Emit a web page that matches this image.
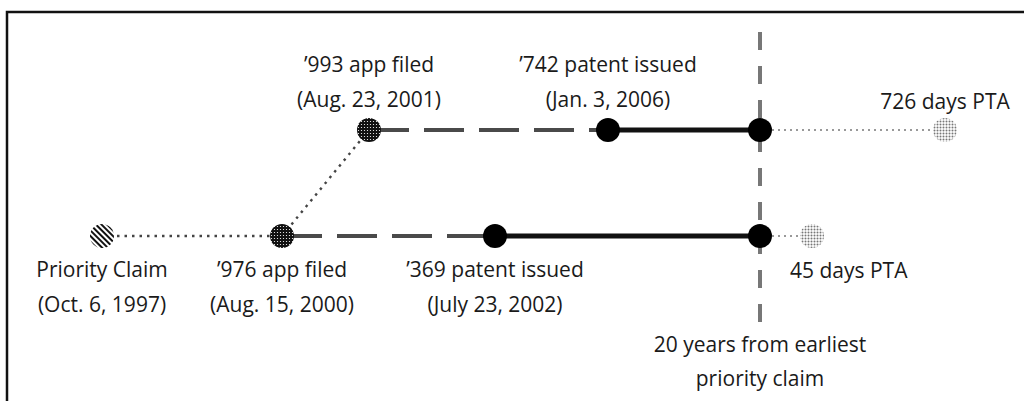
<!DOCTYPE html>
<html>
<head>
<meta charset="utf-8">
<script src="https://cdn.jsdelivr.net/npm/d3@7"></script>
<style>
  body { margin: 0; background: #fff; }
  text { font-family: 'Open Sans', 'Noto Sans', sans-serif; font-size: 21px; fill: #1a1a1a; }
</style>
</head>
<body>
<div id="timeline"></div>
<script>
// application tracks, top to bottom
const tracks = ['993', '976']

// filing / issue events
const eventNames = ['Priority Claim', '\u2019976 app filed', '\u2019993 app filed', '\u2019369 patent issued', '\u2019742 patent issued']
const eventDates = ['1997-10-06', '2000-08-15', '2001-08-23', '2002-07-23', '2006-01-03']
const eventDateLabels = ['(Oct. 6, 1997)', '(Aug. 15, 2000)', '(Aug. 23, 2001)', '(July 23, 2002)', '(Jan. 3, 2006)']
const eventTracks = ['976', '976', '993', '976', '993']
const eventKinds = ['priority', 'filed', 'filed', 'issued', 'issued']

// term + patent term adjustment per track
const termYears = 20
const ptaTracks = ['976', '993']
const ptaDays = [45, 726]

const parse = d3.timeParse('%Y-%m-%d')
const dates = eventDates.map(parse)
const priority = dates[0]
const expiry = d3.timeYear.offset(priority, termYears)
const ptaEnds = ptaDays.map(d => d3.timeDay.offset(expiry, d))

const width = 1024
const height = 401

const svg = d3
  .select('#timeline')
  .append('svg')
  .attr('width', width)
  .attr('height', height)

// schematic (not to scale) time axis: piecewise between milestones
const milestones = dates.concat([expiry]).concat(ptaEnds).sort((a, b) => a - b)
const xPositionScale = d3
  .scaleTime()
  .domain(milestones)
  .range([102, 282, 369, 495, 608, 760, 812, 945])

const yPositionScale = d3
  .scalePoint()
  .domain(tracks)
  .range([130, 236])

const defs = svg.append('defs')

const hatch = defs
  .append('pattern')
  .attr('id', 'hatch')
  .attr('patternUnits', 'userSpaceOnUse')
  .attr('width', 4)
  .attr('height', 4)
  .attr('patternTransform', 'rotate(-45)')
hatch.append('rect').attr('width', 4).attr('height', 4).attr('fill', '#fff')
hatch.append('rect').attr('width', 2).attr('height', 4).attr('fill', '#111')

const darkDots = defs
  .append('pattern')
  .attr('id', 'dark-dots')
  .attr('patternUnits', 'userSpaceOnUse')
  .attr('width', 3)
  .attr('height', 3)
darkDots.append('rect').attr('width', 3).attr('height', 3).attr('fill', '#111')
darkDots.append('circle').attr('cx', 1.5).attr('cy', 1.5).attr('r', 0.6).attr('fill', '#fff')

const lightDots = defs
  .append('pattern')
  .attr('id', 'light-dots')
  .attr('patternUnits', 'userSpaceOnUse')
  .attr('width', 3)
  .attr('height', 3)
lightDots.append('rect').attr('width', 3).attr('height', 3).attr('fill', '#fff')
lightDots.append('circle').attr('cx', 1.5).attr('cy', 1.5).attr('r', 1).attr('fill', '#777')

// frame (only top and left edges visible in the crop)
svg
  .append('rect')
  .attr('x', 7)
  .attr('y', 12)
  .attr('width', width + 50)
  .attr('height', height + 50)
  .attr('fill', 'none')
  .attr('stroke', '#111')
  .attr('stroke-width', 2.5)

const events = eventNames.map((name, i) => ({
  name: name,
  date: dates[i],
  dateLabel: eventDateLabels[i],
  track: eventTracks[i],
  kind: eventKinds[i]
}))

const byKind = (kind, track) => events.find(d => d.kind === kind && d.track === track)

// 20-year line
const termX = xPositionScale(expiry)
svg
  .append('line')
  .attr('x1', termX)
  .attr('x2', termX)
  .attr('y1', yPositionScale('993') - 98)
  .attr('y2', yPositionScale('976') + 88)
  .attr('stroke', '#777')
  .attr('stroke-width', 4)
  .attr('stroke-dasharray', '18,16')

// priority -> '976 filing, then continuation '976 -> '993
const lineGen = d3
  .line()
  .x(d => xPositionScale(d.date))
  .y(d => yPositionScale(d.track))

svg
  .append('path')
  .attr('d', lineGen([events[0], byKind('filed', '976'), byKind('filed', '993')]))
  .attr('fill', 'none')
  .attr('stroke', '#444')
  .attr('stroke-width', 2.4)
  .attr('stroke-dasharray', '2.5,5')

tracks.forEach(track => {
  const filed = byKind('filed', track)
  const issued = byKind('issued', track)
  const y = yPositionScale(track)
  const ptaEnd = ptaEnds[ptaTracks.indexOf(track)]

  // prosecution
  svg
    .append('line')
    .attr('x1', xPositionScale(filed.date))
    .attr('x2', xPositionScale(issued.date))
    .attr('y1', y)
    .attr('y2', y)
    .attr('stroke', '#4a4a4a')
    .attr('stroke-width', 4)
    .attr('stroke-dasharray', '40,15')

  // in force until 20-year date
  svg
    .append('line')
    .attr('x1', xPositionScale(issued.date))
    .attr('x2', termX)
    .attr('y1', y)
    .attr('y2', y)
    .attr('stroke', '#111')
    .attr('stroke-width', 5)

  // PTA extension
  svg
    .append('line')
    .attr('x1', termX)
    .attr('x2', xPositionScale(ptaEnd))
    .attr('y1', y)
    .attr('y2', y)
    .attr('stroke', '#999')
    .attr('stroke-width', 2)
    .attr('stroke-dasharray', '2,4')
})

const fillFor = {
  priority: 'url(#hatch)',
  filed: 'url(#dark-dots)',
  issued: '#000'
}

svg
  .selectAll('.event')
  .data(events)
  .enter()
  .append('circle')
  .attr('class', 'event')
  .attr('cx', d => xPositionScale(d.date))
  .attr('cy', d => yPositionScale(d.track))
  .attr('r', 12)
  .attr('fill', d => fillFor[d.kind])

// term end dots
svg
  .selectAll('.term-end')
  .data(tracks)
  .enter()
  .append('circle')
  .attr('class', 'term-end')
  .attr('cx', termX)
  .attr('cy', d => yPositionScale(d))
  .attr('r', 12)
  .attr('fill', '#000')

svg
  .selectAll('.pta-end')
  .data(ptaTracks)
  .enter()
  .append('circle')
  .attr('class', 'pta-end')
  .attr('cx', (d, i) => xPositionScale(ptaEnds[i]))
  .attr('cy', d => yPositionScale(d))
  .attr('r', 12)
  .attr('fill', 'url(#light-dots)')

// labels: above the top track, below the bottom track
const labels = svg
  .selectAll('.label')
  .data(events)
  .enter()
  .append('text')
  .attr('class', 'label')
  .attr('text-anchor', 'middle')
  .attr('transform', d => {
    const dy = d.track === '993' ? -58 : 41
    return 'translate(' + xPositionScale(d.date) + ',' + (yPositionScale(d.track) + dy) + ')'
  })

labels.append('tspan').attr('x', 0).attr('y', 0).text(d => d.name)
labels.append('tspan').attr('x', 0).attr('y', 35).text(d => d.dateLabel)

// PTA labels
ptaTracks.forEach((track, i) => {
  const x = xPositionScale(ptaEnds[i])
  const y = yPositionScale(track)
  if (track === '993') {
    svg
      .append('text')
      .attr('x', x)
      .attr('y', y - 21)
      .attr('text-anchor', 'middle')
      .text(ptaDays[i] + ' days PTA')
  } else {
    svg
      .append('text')
      .attr('x', termX + 30)
      .attr('y', y + 42)
      .text(ptaDays[i] + ' days PTA')
  }
})

const termLabel = svg
  .append('text')
  .attr('text-anchor', 'middle')
  .attr('transform', 'translate(' + termX + ',' + (yPositionScale('976') + 116) + ')')
termLabel.append('tspan').attr('x', 0).attr('y', 0).text(termYears + ' years from earliest')
termLabel.append('tspan').attr('x', 0).attr('y', 34).text('priority claim')
</script>
</body>
</html>
